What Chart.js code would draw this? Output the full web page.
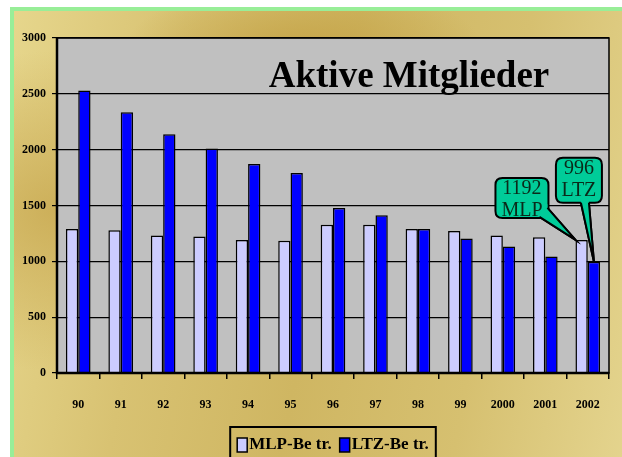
<!DOCTYPE html>
<html lang="de">
<head>
<meta charset="UTF-8">
<title>Aktive Mitglieder</title>
<style>
  html, body { margin: 0; padding: 0; background: #fff; overflow: hidden; }
  #bg {
    position: absolute; left: 10px; top: 7px; width: 610px; height: 460px;
    border: 4px solid #98ee98;
    background:
      radial-gradient(ellipse 180px 70px at 290px 40px, rgba(196,162,70,0.9), rgba(196,162,70,0) 100%),
      radial-gradient(ellipse 200px 160px at 40px 200px, rgba(200,168,80,0.8), rgba(200,168,80,0) 100%),
      linear-gradient(100deg, #e6d68c 0%, #d8c272 25%, #cfb662 50%, #d6c070 75%, #e4d48e 100%);
  }
  #wrap { position: absolute; left: 0; top: 0; width: 622px; height: 457px; }
</style>
</head>
<body>
<div id="bg"></div>
<div id="wrap"><canvas id="chart" width="622" height="457"></canvas></div>

<script src="https://cdn.jsdelivr.net/npm/chart.js"></script>
<script>
  const years = ['90', '91', '92', '93', '94', '95', '96', '97', '98', '99', '2000', '2001', '2002'];
  const mlp = [1290, 1278, 1232, 1222, 1190, 1185, 1328, 1328, 1290, 1272, 1232, 1215, 1192];
  const ltz = [2530, 2335, 2137, 2010, 1872, 1792, 1478, 1412, 1290, 1205, 1133, 1043, 996];
  const seriesNames = ['MLP-Be tr.', 'LTZ-Be tr.'];
  const title = 'Aktive Mitglieder';
  const callouts = [
    { ds: 0, idx: 12, lines: ['1192', 'MLP'] },
    { ds: 1, idx: 12, lines: ['996', 'LTZ'] }
  ];

  const serif = "'Liberation Serif', 'Times New Roman', serif";

  function roundRect(ctx, x, y, w, h, r) {
    ctx.beginPath();
    ctx.moveTo(x + r, y);
    ctx.lineTo(x + w - r, y);
    ctx.quadraticCurveTo(x + w, y, x + w, y + r);
    ctx.lineTo(x + w, y + h - r);
    ctx.quadraticCurveTo(x + w, y + h, x + w - r, y + h);
    ctx.lineTo(x + r, y + h);
    ctx.quadraticCurveTo(x, y + h, x, y + h - r);
    ctx.lineTo(x, y + r);
    ctx.quadraticCurveTo(x, y, x + r, y);
    ctx.closePath();
  }

  function drawCallout(ctx, box, base, tip, lines) {
    ctx.save();
    ctx.fillStyle = '#00cc99';
    ctx.strokeStyle = '#000';
    ctx.lineWidth = 2;
    // tail
    ctx.beginPath();
    ctx.moveTo(base[0][0], base[0][1]);
    ctx.lineTo(tip[0], tip[1]);
    ctx.lineTo(base[1][0], base[1][1]);
    ctx.fill();
    ctx.stroke();
    // box
    roundRect(ctx, box.x, box.y, box.w, box.h, 7);
    ctx.fill();
    ctx.stroke();
    // cover the joint
    ctx.beginPath();
    ctx.moveTo(base[0][0], base[0][1] - 4);
    ctx.lineTo(base[0][0], base[0][1]);
    ctx.lineTo(tip[0], tip[1]);
    ctx.lineTo(base[1][0], base[1][1]);
    ctx.lineTo(base[1][0], base[1][1] - 4);
    ctx.fill();
    ctx.beginPath();
    ctx.moveTo(base[0][0], base[0][1]);
    ctx.lineTo(tip[0], tip[1]);
    ctx.lineTo(base[1][0], base[1][1]);
    ctx.stroke();
    ctx.fillStyle = '#0a2a1a';
    ctx.font = '20px ' + serif;
    ctx.textAlign = 'center';
    ctx.textBaseline = 'middle';
    lines.forEach(function (t, i) {
      ctx.fillText(t, box.x + box.w / 2, box.y + 11 + i * 22);
    });
    ctx.restore();
  }

  const decor = {
    id: 'decor',
    beforeDraw(chart) {
      const a = chart.chartArea;
      const ctx = chart.ctx;
      ctx.save();
      ctx.fillStyle = '#c0c0c0';
      ctx.fillRect(a.left, a.top, a.right - a.left, a.bottom - a.top);
      ctx.restore();
    },
    afterDraw(chart) {
      const a = chart.chartArea;
      const ctx = chart.ctx;
      ctx.save();
      // frame
      ctx.strokeStyle = '#000';
      ctx.lineWidth = 1.5;
      ctx.strokeRect(a.left, a.top, a.right - a.left, a.bottom - a.top);
      ctx.lineWidth = 2.5;
      ctx.beginPath();
      ctx.moveTo(a.left, a.top);
      ctx.lineTo(a.left, a.bottom);
      ctx.lineTo(a.right, a.bottom);
      ctx.stroke();

      // title
      ctx.fillStyle = '#000';
      ctx.font = 'bold 37px ' + serif;
      ctx.textAlign = 'center';
      ctx.textBaseline = 'middle';
      ctx.fillText(title, 409, 77);

      // callouts
      const m0 = chart.getDatasetMeta(callouts[0].ds).data[callouts[0].idx];
      const t0 = [m0.x - m0.width / 2, m0.y];
      drawCallout(ctx, { x: t0[0] - 80, y: t0[1] - 62, w: 53, h: 40 },
        [[t0[0] - 36, t0[1] - 23], [t0[0] - 28, t0[1] - 32]], t0, callouts[0].lines);
      const m1 = chart.getDatasetMeta(callouts[1].ds).data[callouts[1].idx];
      const t1 = [m1.x, m1.y];
      drawCallout(ctx, { x: t1[0] - 38, y: t1[1] - 104, w: 46, h: 45 },
        [[t1[0] - 13, t1[1] - 59], [t1[0] - 5, t1[1] - 59]], t1, callouts[1].lines);

      // legend
      const colors = chart.data.datasets.map(function (d) { return d.backgroundColor; });
      ctx.font = 'bold 17px ' + serif;
      ctx.textAlign = 'left';
      const sw = 10, gapSw = 2, gapItem = 8;
      const widths = seriesNames.map(function (n) { return sw + gapSw + ctx.measureText(n).width; });
      const total = widths.reduce(function (s, w) { return s + w; }, 0) + gapItem;
      const lx = (a.left + a.right) / 2 - total / 2;
      ctx.lineWidth = 2;
      ctx.strokeRect(lx - 7, 427, total + 14, 40);
      let x = lx;
      seriesNames.forEach(function (n, i) {
        ctx.fillStyle = colors[i];
        ctx.fillRect(x, 438, sw, 14);
        ctx.lineWidth = 1.5;
        ctx.strokeRect(x, 438, sw, 14);
        ctx.fillStyle = '#000';
        ctx.fillText(n, x + sw + gapSw, 445);
        x += widths[i] + gapItem;
      });
      ctx.restore();
    }
  };

  const tickFont = { family: serif, size: 12, weight: 'bold' };

  new Chart(document.getElementById('chart'), {
    type: 'bar',
    data: {
      labels: years,
      datasets: [{
        label: seriesNames[0],
        data: mlp,
        backgroundColor: '#ccccff',
        borderColor: '#000',
        borderWidth: 1.5,
        categoryPercentage: 0.58,
        barPercentage: 1
      }, {
        label: seriesNames[1],
        data: ltz,
        backgroundColor: '#0000ff',
        borderColor: '#000',
        borderWidth: 1.5,
        categoryPercentage: 0.58,
        barPercentage: 1
      }]
    },
    options: {
      responsive: false,
      animation: false,
      devicePixelRatio: 1,
      layout: { padding: { left: 0, top: 38, right: 13, bottom: 0 } },
      plugins: {
        legend: { display: false },
        tooltip: { enabled: false },
        title: { display: false }
      },
      scales: {
        x: {
          grid: { drawOnChartArea: false, color: '#000', lineWidth: 1.5, tickLength: 6 },
          border: { color: '#000', width: 2 },
          ticks: { font: tickFont, color: '#000', padding: 19, maxRotation: 0 },
          afterFit: function (s) { s.height = 84; }
        },
        y: {
          min: 0,
          max: 3000,
          grid: { color: '#000', lineWidth: 1.2, tickLength: 5 },
          border: { color: '#000', width: 2 },
          ticks: {
            stepSize: 500, font: tickFont, color: '#000', padding: 6,
            callback: function (v) { return String(v); }
          },
          afterFit: function (s) { s.width = 57; }
        }
      }
    },
    plugins: [decor]
  });
</script>
</body>
</html>
